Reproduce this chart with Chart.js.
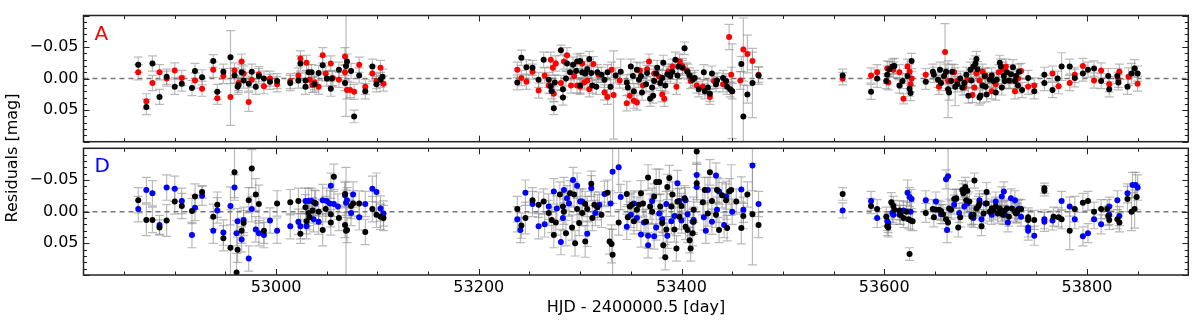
<!DOCTYPE html>
<html>
<head>
<meta charset="utf-8">
<script src="https://cdn.jsdelivr.net/npm/chart.js@4/dist/chart.umd.min.js"></script>
<style>
  html, body { margin: 0; padding: 0; background: #fff; }
  #wrap { position: relative; width: 1200px; height: 320px; overflow: hidden; }
  #cA { position: absolute; left: 0; top: 0; }
  #cD { position: absolute; left: 0; top: 120px; }
  #ylab {
    position: absolute; left: -88px; top: 148px; width: 200px; text-align: center;
    font: 16px "DejaVu Sans", sans-serif; line-height: 20px; color: #000;
    transform: rotate(-90deg);
  }
</style>
</head>
<body>
<div id="wrap">
  <canvas id="cA" width="1200" height="166"></canvas>
  <canvas id="cD" width="1200" height="200"></canvas>
  <div id="ylab">Residuals [mag]</div>
</div>
<script>
// [HJD - 2400000.5, residual (mag), error (mag)]
const aBlack = [
  [52864,-0.022,.012],[52872,0.045,.012],[52878,-0.024,.012],[52885,0.029,.012],[52892,-0.003,.012],[52900,0.013,.012],
  [52907,0.008,.012],[52917,0.015,.012],[52920,-0.012,.012],[52927,-0.002,.012],[52938,-0.028,.01],[52942,0.021,.012],
  [52948,-0.011,.012],[52955,-0.034,.042],[52959,-0.005,.012],[52962,0.013,.012],[52963,0.010,.012],[52966,-0.010,.012],
  [52968,0.003,.012],[52973,0.008,.012],[52976,-0.011,.012],[52980,0.013,.012],[52983,-0.004,.012],[52988,0.000,.012],
  [52994,0.005,.012],[53001,0.004,.012],[53014,0.007,.012],[53022,0.003,.012],[53024,-0.024,.012],[53029,0.013,.012],
  [53029,0.003,.012],[53032,-0.010,.012],[53035,-0.010,.012],[53038,0.009,.012],[53042,-0.009,.012],[53046,-0.021,.014],
  [53050,0.000,.012],[53054,0.016,.012],[53055,0.000,.012],[53062,-0.014,.012],[53068,0.007,.012],[53069,-0.020,.08],
  [53070,-0.027,.012],[53074,-0.012,.012],[53077,0.060,.01],[53082,-0.005,.012],[53088,0.020,.012],[53095,-0.019,.012],
  [53099,0.009,.012],[53103,0.002,.012],[53105,-0.003,.012],
  [53238,0.006,.012],[53242,-0.033,.012],[53247,-0.018,.012],[53253,-0.017,.012],[53259,0.002,.012],[53264,-0.030,.012],
  [53269,0.002,.012],[53271,0.012,.012],[53272,0.020,.012],[53274,0.047,.01],[53275,0.006,.012],[53281,-0.045,.008],
  [53283,0.017,.012],[53283,0.030,.012],[53286,0.000,.012],[53287,-0.024,.012],[53290,-0.010,.012],[53293,-0.022,.012],
  [53296,-0.012,.012],[53297,-0.027,.012],[53300,-0.028,.012],[53300,0.011,.012],[53302,-0.010,.012],[53305,-0.008,.012],
  [53307,-0.015,.012],[53309,-0.031,.012],[53311,-0.009,.012],[53312,0.011,.012],[53316,0.013,.012],[53317,-0.010,.012],
  [53321,-0.006,.012],[53324,0.002,.012],[53327,-0.010,.012],[53330,0.013,.012],[53335,-0.005,.012],[53340,-0.011,.02],
  [53346,0.006,.012],[53347,0.014,.012],[53350,-0.019,.012],[53352,-0.004,.012],[53353,0.020,.012],[53356,-0.014,.012],
  [53358,0.002,.012],[53360,-0.004,.012],[53361,0.022,.012],[53365,0.009,.012],[53366,-0.009,.012],[53369,0.032,.012],
  [53371,0.014,.012],[53372,0.027,.012],[53373,0.004,.012],[53375,-0.008,.012],[53376,-0.017,.012],[53379,0.007,.012],
  [53381,-0.001,.012],[53382,-0.025,.012],[53384,0.011,.012],[53386,-0.007,.012],[53389,-0.004,.012],[53391,-0.011,.012],
  [53394,-0.030,.012],[53396,-0.005,.012],[53397,-0.019,.012],[53401,-0.017,.012],[53403,-0.048,.01],[53406,-0.011,.012],
  [53408,-0.005,.012],[53411,0.002,.012],[53413,-0.001,.012],[53417,0.017,.012],[53422,-0.010,.012],[53423,0.020,.012],
  [53426,0.014,.012],[53428,0.024,.012],[53430,-0.008,.012],[53434,0.009,.012],[53435,0.003,.012],[53441,-0.001,.012],
  [53444,0.004,.012],[53445,0.013,.012],[53448,0.017,.012],[53450,0.020,.075],[53459,-0.023,.012],[53461,0.060,.05],
  [53465,0.025,.014],[53470,0.007,.055],[53476,-0.005,.014],
  [53559,-0.005,.01],[53587,0.021,.012],[53593,0.000,.014],[53602,0.004,.012],[53603,-0.006,.014],[53605,-0.015,.012],
  [53608,-0.019,.012],[53610,-0.020,.012],[53615,0.011,.012],[53618,0.004,.012],[53623,-0.004,.012],[53625,0.016,.012],
  [53626,0.023,.012],[53627,-0.028,.012],[53641,0.005,.012],[53648,-0.011,.012],[53649,-0.006,.012],[53653,0.002,.012],
  [53655,-0.014,.012],[53656,0.007,.012],[53659,-0.004,.012],[53661,-0.011,.012],[53663,0.017,.045],[53664,0.022,.012],
  [53666,0.004,.012],[53667,-0.011,.012],[53670,0.013,.03],[53672,0.009,.012],[53675,0.000,.012],[53677,0.014,.012],
  [53679,0.007,.012],[53681,-0.006,.012],[53683,0.027,.012],[53685,-0.014,.012],[53686,0.003,.012],[53688,-0.019,.012],
  [53690,-0.024,.012],[53691,-0.031,.012],[53692,-0.015,.012],[53694,0.030,.012],[53695,0.027,.012],[53697,0.011,.012],
  [53699,-0.004,.012],[53700,0.013,.012],[53701,0.025,.012],[53704,0.002,.012],[53706,-0.005,.012],[53708,0.004,.012],
  [53710,0.022,.012],[53711,0.002,.012],[53714,-0.025,.012],[53715,-0.019,.012],[53716,0.014,.012],[53718,-0.004,.012],
  [53719,0.004,.012],[53721,-0.010,.012],[53723,0.003,.012],[53725,-0.007,.012],[53727,-0.018,.012],[53729,0.004,.012],
  [53730,-0.004,.012],[53732,0.011,.012],[53733,-0.011,.012],[53736,0.018,.012],[53742,-0.001,.012],[53748,0.020,.012],
  [53758,-0.006,.012],[53758,0.007,.012],[53766,0.018,.012],[53771,0.000,.012],[53775,-0.019,.022],[53783,-0.019,.012],
  [53788,-0.001,.014],[53796,-0.008,.012],[53801,-0.014,.012],[53807,-0.016,.012],[53814,0.004,.012],[53821,-0.004,.012],
  [53822,0.017,.012],[53830,-0.004,.012],[53831,0.006,.012],[53840,0.013,.012],[53844,-0.008,.016],[53847,-0.016,.014],
  [53850,-0.008,.012]
];
const aRed = [
  [52864,-0.010,.012],[52872,0.036,.012],[52878,0.007,.012],[52885,-0.010,.012],[52892,0.000,.012],[52900,-0.013,.012],
  [52907,-0.001,.012],[52920,0.003,.012],[52927,0.016,.012],[52938,-0.014,.012],[52942,0.031,.01],[52948,-0.004,.012],
  [52955,0.029,.045],[52959,-0.013,.012],[52963,0.007,.012],[52966,-0.027,.012],[52968,-0.008,.012],[52973,0.037,.015],
  [52976,0.002,.012],[52983,-0.007,.012],[52988,0.012,.012],[52994,0.000,.012],[53001,0.009,.012],[53014,0.004,.012],
  [53022,-0.005,.012],[53024,-0.032,.012],[53030,-0.025,.012],[53033,0.002,.012],[53036,0.010,.012],[53038,0.006,.012],
  [53042,0.013,.012],[53046,-0.037,.012],[53049,-0.008,.012],[53054,-0.024,.012],[53056,-0.001,.012],[53062,0.002,.012],
  [53068,-0.035,.014],[53068,-0.010,.012],[53070,0.018,.014],[53073,0.018,.012],[53077,0.021,.012],[53082,-0.022,.012],
  [53088,0.013,.012],[53095,-0.008,.012],[53099,0.004,.012],[53103,-0.017,.012],[53106,0.008,.012],
  [53238,-0.014,.012],[53242,-0.001,.012],[53247,0.005,.012],[53253,-0.011,.012],[53259,0.019,.012],[53265,-0.005,.012],
  [53269,0.011,.012],[53271,-0.030,.012],[53273,-0.017,.012],[53274,0.024,.012],[53276,-0.024,.012],[53281,0.007,.012],
  [53284,-0.027,.012],[53287,-0.037,.012],[53291,0.011,.012],[53294,-0.004,.012],[53297,0.011,.012],[53300,0.013,.012],
  [53302,-0.024,.012],[53304,0.006,.012],[53307,0.003,.012],[53309,0.017,.012],[53313,-0.023,.012],[53318,-0.006,.012],
  [53324,0.022,.012],[53327,0.029,.012],[53331,-0.014,.012],[53333,0.026,.07],[53339,0.003,.012],[53346,0.039,.012],
  [53349,0.027,.012],[53353,0.035,.012],[53356,0.038,.012],[53359,-0.013,.012],[53362,0.011,.012],[53366,-0.015,.012],
  [53368,-0.027,.012],[53373,-0.008,.012],[53378,-0.003,.012],[53381,0.025,.012],[53383,0.032,.012],[53387,-0.011,.012],
  [53391,-0.019,.012],[53395,0.013,.012],[53398,-0.027,.012],[53401,-0.020,.012],[53405,-0.013,.012],[53409,0.004,.012],
  [53415,0.011,.012],[53421,0.013,.012],[53428,0.029,.012],[53432,0.004,.012],[53441,0.009,.012],[53447,-0.066,.02],
  [53449,-0.006,.012],[53450,0.020,.012],[53458,0.003,.014],[53461,-0.046,.05],[53465,-0.039,.03],[53470,-0.028,.014],
  [53476,-0.006,.012],
  [53559,0.000,.01],[53587,-0.005,.012],[53593,-0.010,.012],[53603,-0.016,.012],[53604,0.006,.012],[53609,-0.014,.012],
  [53615,-0.010,.012],[53619,0.032,.008],[53623,-0.019,.012],[53625,-0.011,.012],[53626,0.009,.012],[53627,0.000,.012],
  [53641,-0.006,.01],[53654,0.013,.012],[53660,-0.042,.045],[53663,0.004,.012],[53669,-0.010,.012],[53672,0.004,.012],
  [53679,0.014,.012],[53682,0.002,.012],[53687,0.026,.012],[53689,0.014,.012],[53691,-0.008,.012],[53694,0.003,.012],
  [53697,-0.011,.012],[53700,-0.005,.012],[53706,0.020,.012],[53710,0.009,.012],[53713,-0.010,.012],[53717,-0.014,.012],
  [53720,-0.019,.012],[53724,0.004,.012],[53729,0.020,.012],[53732,0.000,.012],[53735,-0.012,.012],[53742,0.013,.012],
  [53748,0.011,.012],[53766,-0.008,.012],[53772,0.012,.012],[53783,0.007,.012],[53788,-0.006,.012],[53796,-0.020,.012],
  [53807,0.003,.012],[53814,-0.013,.012],[53822,0.009,.012],[53831,0.002,.012],[53832,-0.011,.012],[53841,-0.003,.014],
  [53850,0.008,.012]
];
const dBlack = [
  [52864,-0.018,.02],[52872,0.013,.025],[52878,0.013,.02],[52885,0.025,.012],[52892,0.014,.025],[52900,-0.016,.02],
  [52907,-0.009,.02],[52917,-0.001,.02],[52920,-0.024,.02],[52927,-0.031,.01],[52938,0.008,.02],[52942,-0.011,.02],
  [52948,0.042,.02],[52955,0.057,.06],[52959,-0.062,.04],[52961,0.096,.03],[52962,0.060,.02],[52966,0.030,.02],
  [52968,0.018,.02],[52973,-0.018,.02],[52976,-0.068,.03],[52980,-0.027,.025],[52983,-0.012,.03],[52988,0.030,.02],
  [53001,-0.013,.02],[53014,-0.015,.02],[53022,-0.017,.02],[53024,0.035,.015],[53029,-0.007,.02],[53030,0.015,.02],
  [53032,0.002,.02],[53033,0.009,.02],[53036,-0.002,.02],[53038,-0.014,.02],[53042,0.000,.02],[53046,0.029,.025],
  [53049,-0.004,.02],[53054,0.004,.02],[53054,0.017,.02],[53057,-0.055,.02],[53062,0.010,.02],[53068,0.021,.02],
  [53068,-0.028,.02],[53069,0.030,.1],[53070,0.029,.02],[53074,-0.009,.02],[53076,-0.013,.02],[53082,-0.013,.02],
  [53088,0.032,.02],[53095,-0.004,.02],[53099,0.005,.02],[53103,0.008,.02],[53106,0.010,.02],
  [53238,-0.004,.02],[53242,0.022,.02],[53246,0.010,.025],[53253,-0.018,.02],[53259,-0.011,.02],[53264,-0.016,.02],
  [53269,0.002,.02],[53272,0.013,.02],[53274,0.037,.02],[53276,0.017,.02],[53280,-0.027,.02],[53283,-0.008,.02],
  [53284,0.000,.02],[53286,0.034,.02],[53290,-0.029,.02],[53292,0.025,.02],[53294,-0.027,.02],[53295,0.050,.02],
  [53297,-0.004,.02],[53299,0.018,.02],[53302,0.002,.02],[53305,0.047,.025],[53305,-0.012,.02],[53307,-0.004,.02],
  [53311,-0.044,.02],[53312,0.010,.02],[53314,-0.011,.02],[53317,-0.007,.02],[53321,0.005,.02],[53327,-0.030,.02],
  [53329,0.047,.02],[53331,0.051,.03],[53332,0.068,.04],[53338,0.017,.02],[53346,-0.028,.02],[53347,0.009,.02],
  [53349,-0.008,.02],[53351,-0.011,.02],[53353,0.015,.02],[53356,-0.003,.02],[53358,-0.011,.02],[53360,-0.029,.02],
  [53362,-0.013,.02],[53365,0.016,.02],[53367,-0.054,.02],[53369,-0.008,.02],[53371,0.000,.02],[53373,-0.024,.02],
  [53375,-0.047,.02],[53378,-0.047,.02],[53379,-0.008,.02],[53381,0.018,.02],[53382,0.053,.02],[53384,0.072,.02],
  [53385,0.028,.02],[53386,-0.039,.02],[53388,-0.053,.02],[53390,-0.008,.02],[53391,-0.027,.02],[53393,0.028,.02],
  [53395,0.058,.02],[53396,-0.016,.02],[53398,0.008,.02],[53400,-0.009,.02],[53403,-0.021,.02],[53404,0.024,.02],
  [53406,0.029,.02],[53408,0.045,.02],[53409,0.058,.02],[53411,0.034,.02],[53412,0.016,.02],[53412,-0.003,.02],
  [53415,-0.095,.02],[53415,-0.045,.03],[53421,-0.015,.02],[53423,-0.034,.02],[53426,0.003,.02],[53428,-0.062,.02],
  [53430,-0.017,.02],[53434,0.005,.02],[53435,-0.034,.02],[53437,0.029,.02],[53440,-0.026,.02],[53444,-0.018,.03],
  [53445,0.026,.02],[53447,-0.032,.02],[53449,-0.034,.04],[53454,-0.016,.02],[53459,0.026,.025],[53461,0.007,.02],
  [53465,-0.027,.02],[53470,0.004,.08],[53476,0.021,.02],
  [53559,-0.028,.01],[53587,-0.009,.012],[53593,-0.004,.015],[53602,0.008,.015],[53603,0.023,.015],[53604,0.025,.015],
  [53607,-0.015,.015],[53609,-0.009,.015],[53610,-0.003,.015],[53615,-0.002,.015],[53616,0.005,.015],[53619,0.010,.015],
  [53622,0.000,.015],[53624,0.012,.015],[53626,0.014,.015],[53628,0.015,.015],[53625,0.067,.01],[53641,0.002,.015],
  [53648,-0.004,.015],[53649,0.009,.015],[53651,-0.003,.015],[53654,-0.003,.015],[53656,-0.001,.015],[53658,0.004,.015],
  [53661,0.012,.015],[53663,0.017,.015],[53664,-0.005,.015],[53666,-0.003,.015],[53669,-0.020,.015],[53671,-0.021,.015],
  [53673,0.025,.015],[53675,0.009,.015],[53677,-0.034,.015],[53678,-0.029,.015],[53680,-0.039,.015],[53681,-0.018,.015],
  [53682,-0.033,.015],[53684,-0.016,.015],[53686,0.008,.015],[53688,0.005,.015],[53689,-0.049,.012],[53691,-0.005,.015],
  [53693,-0.009,.015],[53694,-0.013,.015],[53696,0.023,.015],[53698,0.003,.015],[53701,-0.031,.015],[53701,-0.013,.015],
  [53704,0.000,.015],[53706,-0.005,.015],[53708,-0.002,.015],[53710,-0.008,.015],[53712,0.003,.015],[53714,-0.005,.015],
  [53716,0.000,.015],[53717,0.005,.015],[53719,-0.002,.015],[53721,-0.005,.015],[53723,0.008,.015],[53726,-0.005,.015],
  [53729,0.000,.015],[53730,0.003,.015],[53732,-0.003,.015],[53735,-0.004,.015],[53742,0.009,.015],[53742,0.013,.015],
  [53748,0.013,.015],[53758,-0.037,.008],[53758,-0.033,.008],[53767,0.008,.015],[53772,0.009,.015],[53775,0.012,.015],
  [53783,0.030,.03],[53788,-0.004,.02],[53796,-0.014,.015],[53801,-0.017,.015],[53807,0.000,.015],[53814,-0.004,.015],
  [53820,-0.004,.015],[53821,0.007,.015],[53822,0.013,.015],[53830,0.012,.015],[53832,0.017,.015],[53840,-0.020,.02],
  [53844,0.000,.03],[53847,-0.004,.03],[53849,-0.023,.02]
];
const dBlue = [
  [52864,-0.004,.02],[52872,-0.034,.02],[52878,-0.029,.02],[52885,0.021,.015],[52892,-0.038,.02],[52900,-0.036,.02],
  [52907,-0.017,.02],[52917,0.037,.02],[52920,-0.006,.02],[52927,-0.025,.015],[52938,0.030,.02],[52942,-0.002,.02],
  [52948,0.033,.02],[52955,-0.009,.03],[52959,-0.038,.02],[52961,0.034,.02],[52962,0.015,.02],[52966,0.044,.02],
  [52968,0.013,.02],[52973,0.074,.02],[52976,-0.004,.02],[52980,0.028,.02],[52983,0.034,.02],[52988,0.037,.02],
  [52994,0.014,.02],[53001,0.030,.02],[53014,0.023,.02],[53022,0.016,.02],[53024,0.023,.02],[53029,-0.017,.02],
  [53030,0.023,.02],[53032,-0.017,.02],[53035,-0.017,.02],[53037,0.012,.02],[53039,-0.013,.02],[53042,0.016,.02],
  [53046,-0.018,.025],[53050,-0.017,.02],[53053,-0.013,.02],[53054,-0.041,.02],[53057,-0.012,.02],[53061,-0.008,.02],
  [53068,-0.026,.02],[53069,-0.014,.02],[53070,-0.018,.02],[53074,0.002,.02],[53076,-0.027,.02],[53082,0.009,.02],
  [53088,-0.012,.02],[53095,-0.036,.02],[53099,-0.031,.03],[53103,-0.005,.02],[53106,0.003,.02],
  [53238,0.012,.02],[53241,0.029,.02],[53246,-0.030,.02],[53253,-0.012,.02],[53259,0.023,.02],[53265,0.020,.02],
  [53269,-0.008,.02],[53274,-0.032,.02],[53277,-0.005,.02],[53281,0.048,.02],[53283,0.010,.02],[53284,-0.034,.02],
  [53287,-0.021,.02],[53289,-0.013,.02],[53293,-0.050,.02],[53297,-0.041,.02],[53300,-0.016,.02],[53302,-0.016,.02],
  [53307,0.035,.02],[53311,-0.037,.02],[53315,0.002,.02],[53319,-0.011,.02],[53324,-0.028,.02],[53330,-0.013,.02],
  [53332,-0.063,.05],[53338,-0.070,.04],[53340,-0.023,.02],[53346,0.024,.02],[53350,0.005,.02],[53353,-0.013,.02],
  [53356,0.010,.02],[53360,0.036,.02],[53363,0.017,.02],[53367,0.038,.02],[53367,0.053,.02],[53371,-0.017,.02],
  [53373,0.039,.02],[53375,0.025,.02],[53378,0.003,.02],[53381,0.012,.02],[53385,-0.012,.02],[53386,0.038,.02],
  [53390,0.015,.02],[53393,0.007,.02],[53396,-0.045,.02],[53398,-0.017,.02],[53400,0.014,.02],[53404,-0.018,.02],
  [53406,0.004,.02],[53411,0.016,.02],[53412,0.013,.02],[53415,-0.058,.02],[53415,-0.039,.02],[53422,0.009,.02],
  [53424,0.030,.02],[53426,-0.034,.02],[53430,0.016,.02],[53434,-0.057,.02],[53435,-0.003,.02],[53437,-0.032,.02],
  [53442,0.021,.02],[53444,-0.024,.02],[53450,0.000,.02],[53459,-0.035,.02],[53461,-0.003,.02],[53470,-0.073,.04],
  [53476,-0.012,.02],
  [53559,-0.002,.012],[53587,-0.017,.015],[53593,0.010,.015],[53603,0.015,.015],[53604,0.018,.015],[53608,0.002,.015],
  [53609,0.005,.015],[53615,0.005,.015],[53619,-0.002,.015],[53623,-0.030,.02],[53625,-0.023,.015],[53626,0.000,.015],
  [53627,-0.020,.015],[53641,-0.018,.015],[53651,-0.016,.015],[53656,0.004,.015],[53661,-0.051,.015],[53663,-0.056,.05],
  [53662,0.029,.02],[53669,-0.011,.015],[53671,-0.020,.015],[53674,0.002,.015],[53679,-0.008,.015],[53682,-0.013,.015],
  [53686,0.005,.015],[53688,0.010,.015],[53694,-0.018,.015],[53696,0.012,.015],[53700,-0.013,.015],[53706,0.005,.015],
  [53710,-0.016,.015],[53716,-0.024,.015],[53718,-0.032,.015],[53719,0.005,.015],[53722,0.017,.015],[53725,-0.021,.015],
  [53729,-0.018,.015],[53731,0.002,.015],[53733,-0.005,.015],[53735,0.008,.015],[53742,0.030,.015],[53742,0.025,.015],
  [53748,0.038,.015],[53758,0.012,.015],[53758,0.016,.015],[53766,0.014,.015],[53775,-0.017,.015],[53783,-0.008,.015],
  [53788,0.012,.015],[53796,0.039,.015],[53801,0.034,.015],[53807,0.012,.015],[53814,0.020,.015],[53822,-0.008,.015],
  [53822,0.005,.015],[53830,-0.018,.015],[53832,0.007,.015],[53840,-0.029,.015],[53845,-0.042,.02],[53848,-0.042,.02],
  [53850,-0.038,.02]
];

const xMin = 52810, xMax = 53900;
const yLim = 0.1;

Chart.defaults.font.family = '"DejaVu Sans", sans-serif';
Chart.defaults.color = '#000';

function pts(arr) {
  return arr.map(r => ({x: r[0], y: r[1], e: r[2]}));
}

const framePlugin = {
  id: 'frame',
  beforeDatasetsDraw(chart) {
    const {ctx, chartArea: a, scales: {x, y}} = chart;
    ctx.save();
    ctx.beginPath();
    ctx.rect(a.left, a.top, a.right - a.left, a.bottom - a.top);
    ctx.clip();
    // zero line
    const y0 = y.getPixelForValue(0);
    ctx.strokeStyle = '#777';
    ctx.lineWidth = 1.5;
    ctx.setLineDash([5, 4]);
    ctx.beginPath();
    ctx.moveTo(a.left, y0);
    ctx.lineTo(a.right, y0);
    ctx.stroke();
    ctx.setLineDash([]);
    // error bars
    ctx.strokeStyle = 'rgba(130,130,130,0.55)';
    ctx.lineWidth = 1.2;
    chart.data.datasets.forEach(ds => {
      ds.data.forEach(p => {
        const px = x.getPixelForValue(p.x);
        const t = y.getPixelForValue(p.y - p.e);
        const b = y.getPixelForValue(p.y + p.e);
        ctx.beginPath();
        ctx.moveTo(px, t); ctx.lineTo(px, b);
        ctx.moveTo(px - 4.5, t); ctx.lineTo(px + 4.5, t);
        ctx.moveTo(px - 4.5, b); ctx.lineTo(px + 4.5, b);
        ctx.stroke();
      });
    });
    ctx.restore();
  },
  afterDraw(chart, args, opts) {
    const {ctx, chartArea: a, scales: {x, y}} = chart;
    ctx.save();
    ctx.strokeStyle = '#222';
    ctx.lineWidth = 1;
    ctx.beginPath();
    x.ticks.forEach(t => {
      if (t.value % 50 !== 0) return;
      const L = t.value % 200 === 0 ? 6 : 3.5;
      const px = Math.round(x.getPixelForValue(t.value)) + 0.5;
      ctx.moveTo(px, a.bottom); ctx.lineTo(px, a.bottom - L);
      ctx.moveTo(px, a.top); ctx.lineTo(px, a.top + L);
    });
    y.ticks.forEach(t => {
      const k = Math.round(t.value * 100);
      const L = k % 5 === 0 ? 6 : 3.5;
      const py = Math.round(y.getPixelForValue(t.value)) + 0.5;
      ctx.moveTo(a.left, py); ctx.lineTo(a.left + L, py);
      ctx.moveTo(a.right, py); ctx.lineTo(a.right - L, py);
    });
    ctx.stroke();
    ctx.lineWidth = 1.5;
    ctx.strokeRect(a.left, a.top, a.right - a.left, a.bottom - a.top);
    // panel letter
    ctx.fillStyle = opts.color;
    ctx.font = '20px "DejaVu Sans", sans-serif';
    ctx.textBaseline = 'alphabetic';
    ctx.fillText(opts.text, a.left + 11, a.top + 24);
    ctx.restore();
  }
};

function makeChart(id, sets, letter, letterColor, showX, pad) {
  return new Chart(document.getElementById(id).getContext('2d'), {
    type: 'scatter',
    data: {
      datasets: sets.map(s => ({
        data: pts(s.data),
        pointRadius: 3,
        pointHoverRadius: 3,
        pointBorderWidth: 0,
        pointBackgroundColor: s.color,
        borderColor: s.color,
        backgroundColor: s.color
      }))
    },
    options: {
      responsive: false,
      animation: false,
      layout: { autoPadding: false, padding: pad },
      plugins: {
        legend: { display: false },
        tooltip: { enabled: false },
        frame: { text: letter, color: letterColor }
      },
      scales: {
        x: {
          type: 'linear',
          min: xMin,
          max: xMax,
          display: showX,
          grid: { display: false, drawTicks: false },
          border: { display: false },
          ticks: {
            stepSize: 50,
            includeBounds: false,
            autoSkip: false,
            maxRotation: 0,
            padding: 3,
            font: { size: 16 },
            callback: v => (v % 200 === 0 ? String(v) : '')
          },
          title: {
            display: showX,
            text: 'HJD - 2400000.5 [day]',
            font: { size: 16 },
            padding: { top: 0, bottom: 3 }
          },
          afterFit: s => { s.height = showX ? 45 : 0; }
        },
        y: {
          type: 'linear',
          min: -yLim,
          max: yLim,
          reverse: true,
          grid: { display: false, drawTicks: false },
          border: { display: false },
          ticks: {
            stepSize: 0.01,
            autoSkip: false,
            padding: 5,
            font: { size: 16 },
            callback: v => {
              const k = Math.round(v * 100);
              if (k === 0) return '0.00';
              if (k === -5) return '\u22120.05';
              if (k === 5) return '0.05';
              return '';
            }
          },
          afterFit: s => { s.width = 83.5; }
        }
      }
    },
    plugins: [framePlugin]
  });
}

makeChart('cA', [
  {data: aBlack, color: '#000000'},
  {data: aRed, color: '#ff0000'}
], 'A', '#ff0000', false, {left: 0, right: 11.7, top: 15.5, bottom: 24.3});

makeChart('cD', [
  {data: dBlack, color: '#000000'},
  {data: dBlue, color: '#0000ff'}
], 'D', '#0000ff', true, {left: 0, right: 11.7, top: 28.3, bottom: 0});
</script>
</body>
</html>
